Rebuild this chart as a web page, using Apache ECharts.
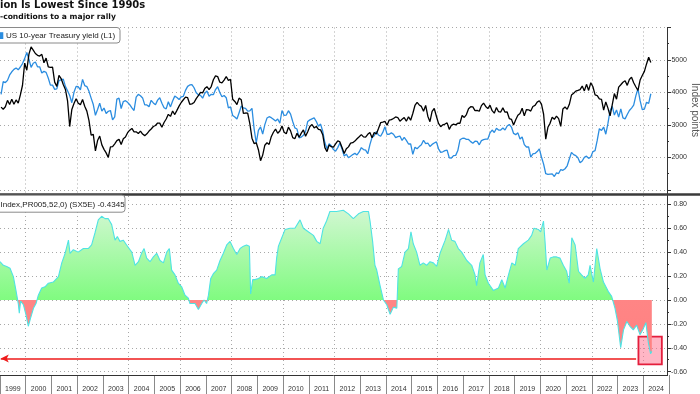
<!DOCTYPE html>
<html><head><meta charset="utf-8">
<script src="https://cdn.jsdelivr.net/npm/echarts@6/dist/echarts.min.js"></script>
<style>html,body{margin:0;padding:0;background:#fff}#c{width:700px;height:394px}</style>
</head><body><div id="c"></div>
<script>
// ---------- DATA ----------
const years = ['1999','2000','2001','2002','2003','2004','2005','2006','2007','2008','2009','2010','2011','2012','2013','2014','2015','2016','2017','2018','2019','2020','2021','2022','2023','2024'];
const firstYear = 1999; // monthly series start in Jan 1999
// Euro Stoxx 50 (index points), monthly
const sx5e = [
3548,3484,3559,3757,3629,3788,3638,3769,3669,3923,4222,4904,
4684,5182,5400,5303,5200,5145,5122,5175,4915,5057,4791,4772,
4780,4319,4185,4526,4427,4243,4092,3744,2950,3478,3658,3806,
3670,3625,3784,3574,3425,3133,2686,2710,2204,2519,2657,2386,
2248,2140,2000,2324,2330,2419,2519,2556,2395,2575,2630,2761,
2839,2894,2787,2788,2737,2811,2720,2671,2726,2811,2876,2951,
2984,3058,3056,2930,3076,3182,3326,3263,3429,3320,3448,3579,
3691,3775,3854,3839,3637,3649,3692,3809,3899,4004,3987,4120,
4179,4088,4182,4393,4512,4489,4316,4295,4382,4490,4372,4400,
3792,3724,3628,3826,3777,3353,3367,3366,3038,2592,2426,2451,
2237,1900,2071,2376,2451,2401,2638,2775,2873,2743,2815,2966,
2776,2728,2931,2817,2610,2574,2742,2623,2748,2845,2650,2793,
2954,3013,2911,2952,2862,2848,2700,2302,2180,2385,2330,2317,
2416,2512,2477,2306,2118,2265,2325,2441,2454,2503,2575,2636,
2703,2634,2624,2712,2770,2603,2769,2721,2893,3068,3087,3109,
2990,3149,3162,3199,3245,3228,3116,3173,3226,3114,3251,3146,
3352,3599,3697,3616,3571,3424,3601,3270,3101,3418,3506,3268,
3045,2946,3005,3028,3063,2865,2991,3023,3002,3055,3052,3291,
3231,3320,3501,3560,3555,3442,3449,3421,3595,3674,3570,3504,
3609,3439,3362,3536,3407,3396,3525,3393,3399,3197,3173,3001,
3159,3298,3352,3514,3280,3474,3467,3427,3569,3604,3704,3745,
3641,3329,2560,2928,3050,3234,3174,3273,3194,2958,3493,3553,
3481,3636,3919,3975,4040,4064,4089,4196,4048,4250,4063,4298,
4175,3924,3903,3803,3789,3455,3708,3517,3279,3618,3965,3794,
4163,4238,4315,4359,4218,4399,4471,4297,4175,4061,4382,4521,
4648,4878,5083,4921
];
// US 10-year Treasury yield (%), monthly
const ust10y = [
4.65,5.29,5.24,5.35,5.62,5.78,5.90,5.97,5.88,6.02,6.19,6.44,
6.75,6.41,6.00,6.21,6.27,6.03,6.03,5.72,5.80,5.75,5.47,5.11,
5.11,4.90,4.92,5.34,5.38,5.41,5.05,4.83,4.59,4.23,4.75,5.05,
5.03,4.88,5.40,5.09,5.04,4.80,4.46,4.14,3.60,3.89,4.21,3.81,
3.96,3.69,3.80,3.84,3.37,3.52,4.41,4.46,3.94,4.29,4.33,4.25,
4.13,3.97,3.84,4.51,4.65,4.58,4.47,4.12,4.12,4.03,4.35,4.22,
4.13,4.36,4.48,4.20,3.98,3.92,4.28,4.02,4.32,4.56,4.49,4.39,
4.52,4.55,4.85,5.05,5.12,5.14,4.98,4.73,4.63,4.60,4.46,4.70,
4.82,4.56,4.65,4.63,4.89,5.03,4.74,4.53,4.59,4.48,3.97,4.02,
3.59,3.51,3.41,3.73,4.06,3.97,3.95,3.81,3.82,3.95,2.92,2.21,
2.84,3.02,2.66,3.13,3.46,3.53,3.48,3.40,3.31,3.41,3.20,3.84,
3.59,3.61,3.83,3.66,3.29,2.97,2.91,2.47,2.51,2.60,2.79,3.29,
3.37,3.42,3.47,3.29,3.05,3.16,2.80,2.22,1.92,2.17,2.07,1.88,
1.80,1.98,2.21,1.91,1.56,1.65,1.47,1.55,1.63,1.69,1.61,1.76,
1.98,1.88,1.85,1.67,2.13,2.49,2.58,2.78,2.61,2.55,2.74,3.03,
2.64,2.65,2.72,2.65,2.48,2.53,2.56,2.34,2.49,2.34,2.16,2.17,
1.64,2.00,1.92,2.03,2.12,2.35,2.18,2.21,2.04,2.14,2.21,2.27,
1.92,1.74,1.77,1.83,1.85,1.47,1.46,1.58,1.59,1.83,2.37,2.44,
2.45,2.39,2.39,2.28,2.20,2.30,2.29,2.12,2.33,2.38,2.41,2.41,
2.72,2.86,2.74,2.95,2.86,2.86,2.96,2.86,3.06,3.14,3.01,2.69,
2.63,2.72,2.41,2.51,2.13,2.01,2.02,1.50,1.67,1.69,1.78,1.92,
1.51,1.15,0.67,0.64,0.65,0.66,0.53,0.71,0.68,0.88,0.84,0.92,
1.07,1.41,1.74,1.63,1.58,1.47,1.22,1.31,1.49,1.55,1.44,1.51,
1.78,1.83,2.34,2.93,2.84,3.01,2.65,3.19,3.83,4.05,3.61,3.87,
3.51,3.92,3.47,3.42,3.64,3.84,3.96,4.11,4.57,4.93,4.33,3.88,
3.91,4.25,4.20,4.68
];
// 52-week correlation, read at these dates (decimal years)
const corrTimes = [1999.00,1999.13,1999.26,1999.39,1999.52,1999.62,1999.71,1999.75,1999.80,1999.91,2000.01,2000.10,2000.19,2000.30,2000.40,2000.49,2000.62,2000.75,2000.88,2001.07,2001.27,2001.40,2001.53,2001.66,2001.72,2001.85,2002.04,2002.24,2002.43,2002.56,2002.69,2002.82,2002.95,2003.08,2003.21,2003.34,2003.47,2003.56,2003.66,2003.79,2003.92,2004.12,2004.25,2004.38,2004.50,2004.60,2004.70,2004.83,2004.96,2005.09,2005.22,2005.35,2005.48,2005.58,2005.67,2005.80,2005.93,2006.06,2006.19,2006.32,2006.38,2006.58,2006.71,2006.84,2006.93,2007.03,2007.10,2007.19,2007.29,2007.42,2007.55,2007.68,2007.81,2007.94,2008.07,2008.20,2008.33,2008.46,2008.58,2008.69,2008.74,2008.82,2008.91,2009.04,2009.17,2009.36,2009.56,2009.69,2009.75,2009.82,2009.95,2010.08,2010.27,2010.46,2010.66,2010.79,2010.98,2011.18,2011.31,2011.44,2011.56,2011.69,2011.82,2012.08,2012.34,2012.54,2012.73,2012.93,2013.12,2013.32,2013.38,2013.48,2013.57,2013.64,2013.77,2013.90,2014.03,2014.16,2014.29,2014.42,2014.48,2014.61,2014.74,2014.87,2014.97,2015.06,2015.19,2015.32,2015.45,2015.58,2015.71,2015.84,2015.97,2016.10,2016.30,2016.43,2016.55,2016.68,2016.81,2016.94,2017.14,2017.33,2017.46,2017.52,2017.65,2017.78,2017.85,2017.98,2018.17,2018.37,2018.50,2018.63,2018.76,2018.89,2019.02,2019.14,2019.34,2019.53,2019.66,2019.75,2019.92,2020.01,2020.12,2020.18,2020.25,2020.38,2020.50,2020.63,2020.76,2020.89,2021.02,2021.12,2021.22,2021.35,2021.48,2021.60,2021.73,2021.86,2021.93,2022.06,2022.19,2022.32,2022.45,2022.64,2022.77,2022.90,2022.99,2023.12,2023.23,2023.36,2023.48,2023.61,2023.74,2023.87,2024.00,2024.10,2024.19,2024.28,2024.33];
const corrValues = [0.32,0.29,0.28,0.265,0.195,0.08,-0.03,-0.11,-0.01,-0.04,-0.125,-0.22,-0.15,-0.07,-0.03,0.04,0.10,0.11,0.14,0.15,0.195,0.31,0.39,0.50,0.39,0.42,0.40,0.43,0.43,0.46,0.56,0.67,0.70,0.68,0.68,0.63,0.50,0.53,0.49,0.50,0.46,0.40,0.29,0.32,0.39,0.43,0.35,0.32,0.36,0.39,0.33,0.31,0.40,0.43,0.25,0.21,0.14,0.11,0.04,0.015,-0.03,-0.03,-0.08,-0.03,0.0,-0.03,0.04,0.18,0.22,0.25,0.33,0.39,0.46,0.49,0.43,0.38,0.43,0.45,0.46,0.45,0.05,0.17,0.17,0.18,0.195,0.18,0.21,0.21,0.35,0.45,0.52,0.59,0.60,0.60,0.67,0.60,0.57,0.54,0.49,0.47,0.60,0.66,0.74,0.74,0.75,0.72,0.68,0.72,0.74,0.74,0.66,0.49,0.29,0.25,0.12,0.0,-0.04,-0.12,-0.06,-0.07,0.26,0.28,0.40,0.43,0.57,0.47,0.40,0.29,0.31,0.29,0.32,0.31,0.28,0.39,0.50,0.59,0.50,0.49,0.43,0.40,0.33,0.29,0.21,0.12,0.31,0.38,0.21,0.14,0.08,0.10,0.17,0.10,0.21,0.31,0.29,0.43,0.47,0.50,0.54,0.60,0.59,0.57,0.66,0.49,0.25,0.35,0.36,0.36,0.35,0.29,0.24,0.14,0.52,0.46,0.24,0.21,0.18,0.21,0.29,0.15,0.43,0.26,0.15,0.07,0.03,-0.07,-0.17,-0.40,-0.25,-0.18,-0.22,-0.25,-0.21,-0.29,-0.24,-0.19,-0.35,-0.45,-0.43];
const indexTickLabels = [2000,3000,4000,5000];
const lastCorr = '-0.4345';
// annotation: red reference line and highlight box (data coords)
const refLine = {from:1999.03, to:2023.72, level:-0.49};
const highlight = {from:2023.81, to:2024.72, top:-0.307, bottom:-0.538};

// ---------- BUILD ----------
const monthT = i => firstYear + (i + 0.5) / 12;
const sxData = sx5e.map((v,i)=>[monthT(i), v]);
const ustData = ust10y.map((v,i)=>[monthT(i), v]);
const corrData = corrValues.map((v,i)=>[corrTimes[i], v]);

const T0 = 1999, T1 = 2024.92;
const topG = {left:0, top:27.5, width:667, height:162.4};
const botG = {left:0, top:204.3, width:667, height:167.4};
const botMin = -0.6, botMax = 0.8;
const zeroFrac = botMax/(botMax-botMin);
const dotted = {color:'#a8a8a8', width:1, type:[1,3]};
const FONT = 'Liberation Sans, Arial, sans-serif';

const chart = echarts.init(document.getElementById('c'), null, {renderer:'canvas'});
const option = {
  animation:false,
  backgroundColor:'#fff',
  grid:[
    topG, botG,
    {left:0, top:27.5, width:669, height:165.6},
    {left:0, top:196, width:669, height:179}
  ],
  xAxis:[
    {gridIndex:0, type:'value', min:T0, max:T1, show:false},
    {gridIndex:1, type:'value', min:T0, max:T1, show:false},
    {gridIndex:2, type:'category', data:years, boundaryGap:true,
     axisLine:{show:false}, axisTick:{show:false}, axisLabel:{show:false},
     splitLine:{show:true, showMaxLine:false, interval:(i,v)=> (+v)%2===0, lineStyle:dotted}},
    {gridIndex:3, type:'category', data:years, boundaryGap:true, position:'bottom',
     axisLine:{show:false},
     axisTick:{show:true, interval:0, length:19, lineStyle:{color:'#8a8a8a'}},
     axisLabel:{show:true, interval:0, margin:11, fontSize:7, color:'#333', fontFamily:FONT},
     splitLine:{show:true, showMaxLine:false, interval:(i,v)=> (+v)%2===0, lineStyle:dotted}}
  ],
  yAxis:[
    {gridIndex:0, type:'value', position:'right', min:1000, max:6000, interval:1000,
     axisLine:{show:true, lineStyle:{color:'#333'}},
     axisTick:{show:true, length:4, lineStyle:{color:'#333'}},
     minorTick:{show:true, splitNumber:2, length:2, lineStyle:{color:'#333'}},
     axisLabel:{align:'right', margin:20, fontSize:7, color:'#333', fontFamily:FONT,
       formatter:v=> indexTickLabels.indexOf(v)>=0 ? String(v) : ''},
     splitLine:{show:true, lineStyle:dotted}},
    {gridIndex:0, type:'value', position:'left', min:-0.14, max:8.0, show:false},
    {gridIndex:1, type:'value', position:'right', min:botMin, max:botMax, interval:0.2,
     axisLine:{show:true, lineStyle:{color:'#333'}},
     axisTick:{show:true, length:4, lineStyle:{color:'#333'}},
     minorTick:{show:true, splitNumber:2, length:2, lineStyle:{color:'#333'}},
     axisLabel:{align:'right', margin:20, fontSize:7, color:'#333', fontFamily:FONT,
       formatter:v=> (Math.abs(v)<1e-9?0:v).toFixed(2)},
     splitLine:{show:true, lineStyle:dotted}},
    {gridIndex:2, type:'value', show:false},
    {gridIndex:3, type:'value', show:false}
  ],
  series:[
    {type:'line', name:'US 10-year Treasury yield (L1)', xAxisIndex:0, yAxisIndex:1, data:ustData,
     showSymbol:false, symbol:'none', lineStyle:{color:'#2b8de0', width:1.3}, z:3},
    {type:'line', name:'SX5E', xAxisIndex:0, yAxisIndex:0, data:sxData,
     showSymbol:false, symbol:'none', lineStyle:{color:'#000', width:1.3}, z:4},
    {type:'line', name:'corrArea', xAxisIndex:1, yAxisIndex:2, data:corrData,
     showSymbol:false, symbol:'none', lineStyle:{width:0, opacity:0},
     areaStyle:{opacity:1, color:{type:'linear', x:0, y:botG.top, x2:0, y2:botG.top+botG.height, global:true,
       colorStops:[{offset:0,color:'#d6f7d6'},{offset:zeroFrac,color:'#80fb80'},
                   {offset:zeroFrac,color:'#ff8585'},{offset:1,color:'#ff8080'}]}}, z:2},
    {type:'line', name:'corr', xAxisIndex:1, yAxisIndex:2, data:corrData,
     showSymbol:false, symbol:'none', lineStyle:{color:'#4fe3e3', width:1.1}, z:3,
     markLine:{silent:true, symbol:['arrow','none'], symbolSize:[6,8], label:{show:false},
       lineStyle:{color:'#ee1a1a', width:1.6, type:'solid'},
       data:[[{coord:[refLine.from, refLine.level]},{coord:[refLine.to, refLine.level]}]]},
     markArea:{silent:true, label:{show:false},
       itemStyle:{color:'rgba(255,110,140,0.5)', borderColor:'#e41e3c', borderWidth:1.8},
       data:[[{coord:[highlight.from, highlight.top]},{coord:[highlight.to, highlight.bottom]}]]}}
  ],
  graphic:[
    {type:'line', shape:{x1:0, y1:375.5, x2:667, y2:375.5}, style:{stroke:'#333', lineWidth:1}, z:5},
    {type:'line', shape:{x1:667.5, y1:189, x2:667.5, y2:205}, style:{stroke:'#333', lineWidth:1}, z:5},
    {type:'line', shape:{x1:667.5, y1:371, x2:667.5, y2:376}, style:{stroke:'#333', lineWidth:1}, z:5},
    {type:'rect', shape:{x:0, y:193.2, width:700, height:2.5}, style:{fill:'#3a3a3a'}, z:20},
    {type:'text', x:0, y:0, z:20, style:{text:'ion Is Lowest Since 1990s', fill:'#111',
      font:'bold 10px "DejaVu Sans"', textVerticalAlign:'top'}},
    {type:'text', x:0, y:13, z:20, style:{text:'-conditions to a major rally', fill:'#111',
      font:'bold 7.6px "DejaVu Sans"', textVerticalAlign:'top'}},
    {type:'rect', shape:{x:-6, y:27.5, width:126, height:15.5, r:3}, style:{fill:'#fff', stroke:'#8a8a8a', lineWidth:1}, z:20},
    {type:'rect', shape:{x:-3.4, y:32.2, width:6.7, height:6.8}, style:{fill:'#2b8de0'}, z:21},
    {type:'text', x:6, y:35.6, z:21, style:{text:'US 10-year Treasury yield (L1)', fill:'#222',
      font:'8px "Liberation Sans"', textVerticalAlign:'middle'}},
    {type:'rect', shape:{x:-6, y:195.2, width:131, height:17, r:3}, style:{fill:'#fff', stroke:'#8a8a8a', lineWidth:1}, z:20},
    {type:'text', x:0.5, y:204.8, z:21, style:{text:'Index,PR005,52,0) (SX5E) ' + lastCorr, fill:'#222',
      font:'8px "Liberation Sans"', textVerticalAlign:'middle'}},
    {type:'text', x:694.5, y:110, rotation:-Math.PI/2, z:21, style:{text:'Index points', fill:'#555',
      font:'10px "Liberation Sans"', textAlign:'center', textVerticalAlign:'middle'}}
  ]
};
chart.setOption(option);
</script>
</body></html>
